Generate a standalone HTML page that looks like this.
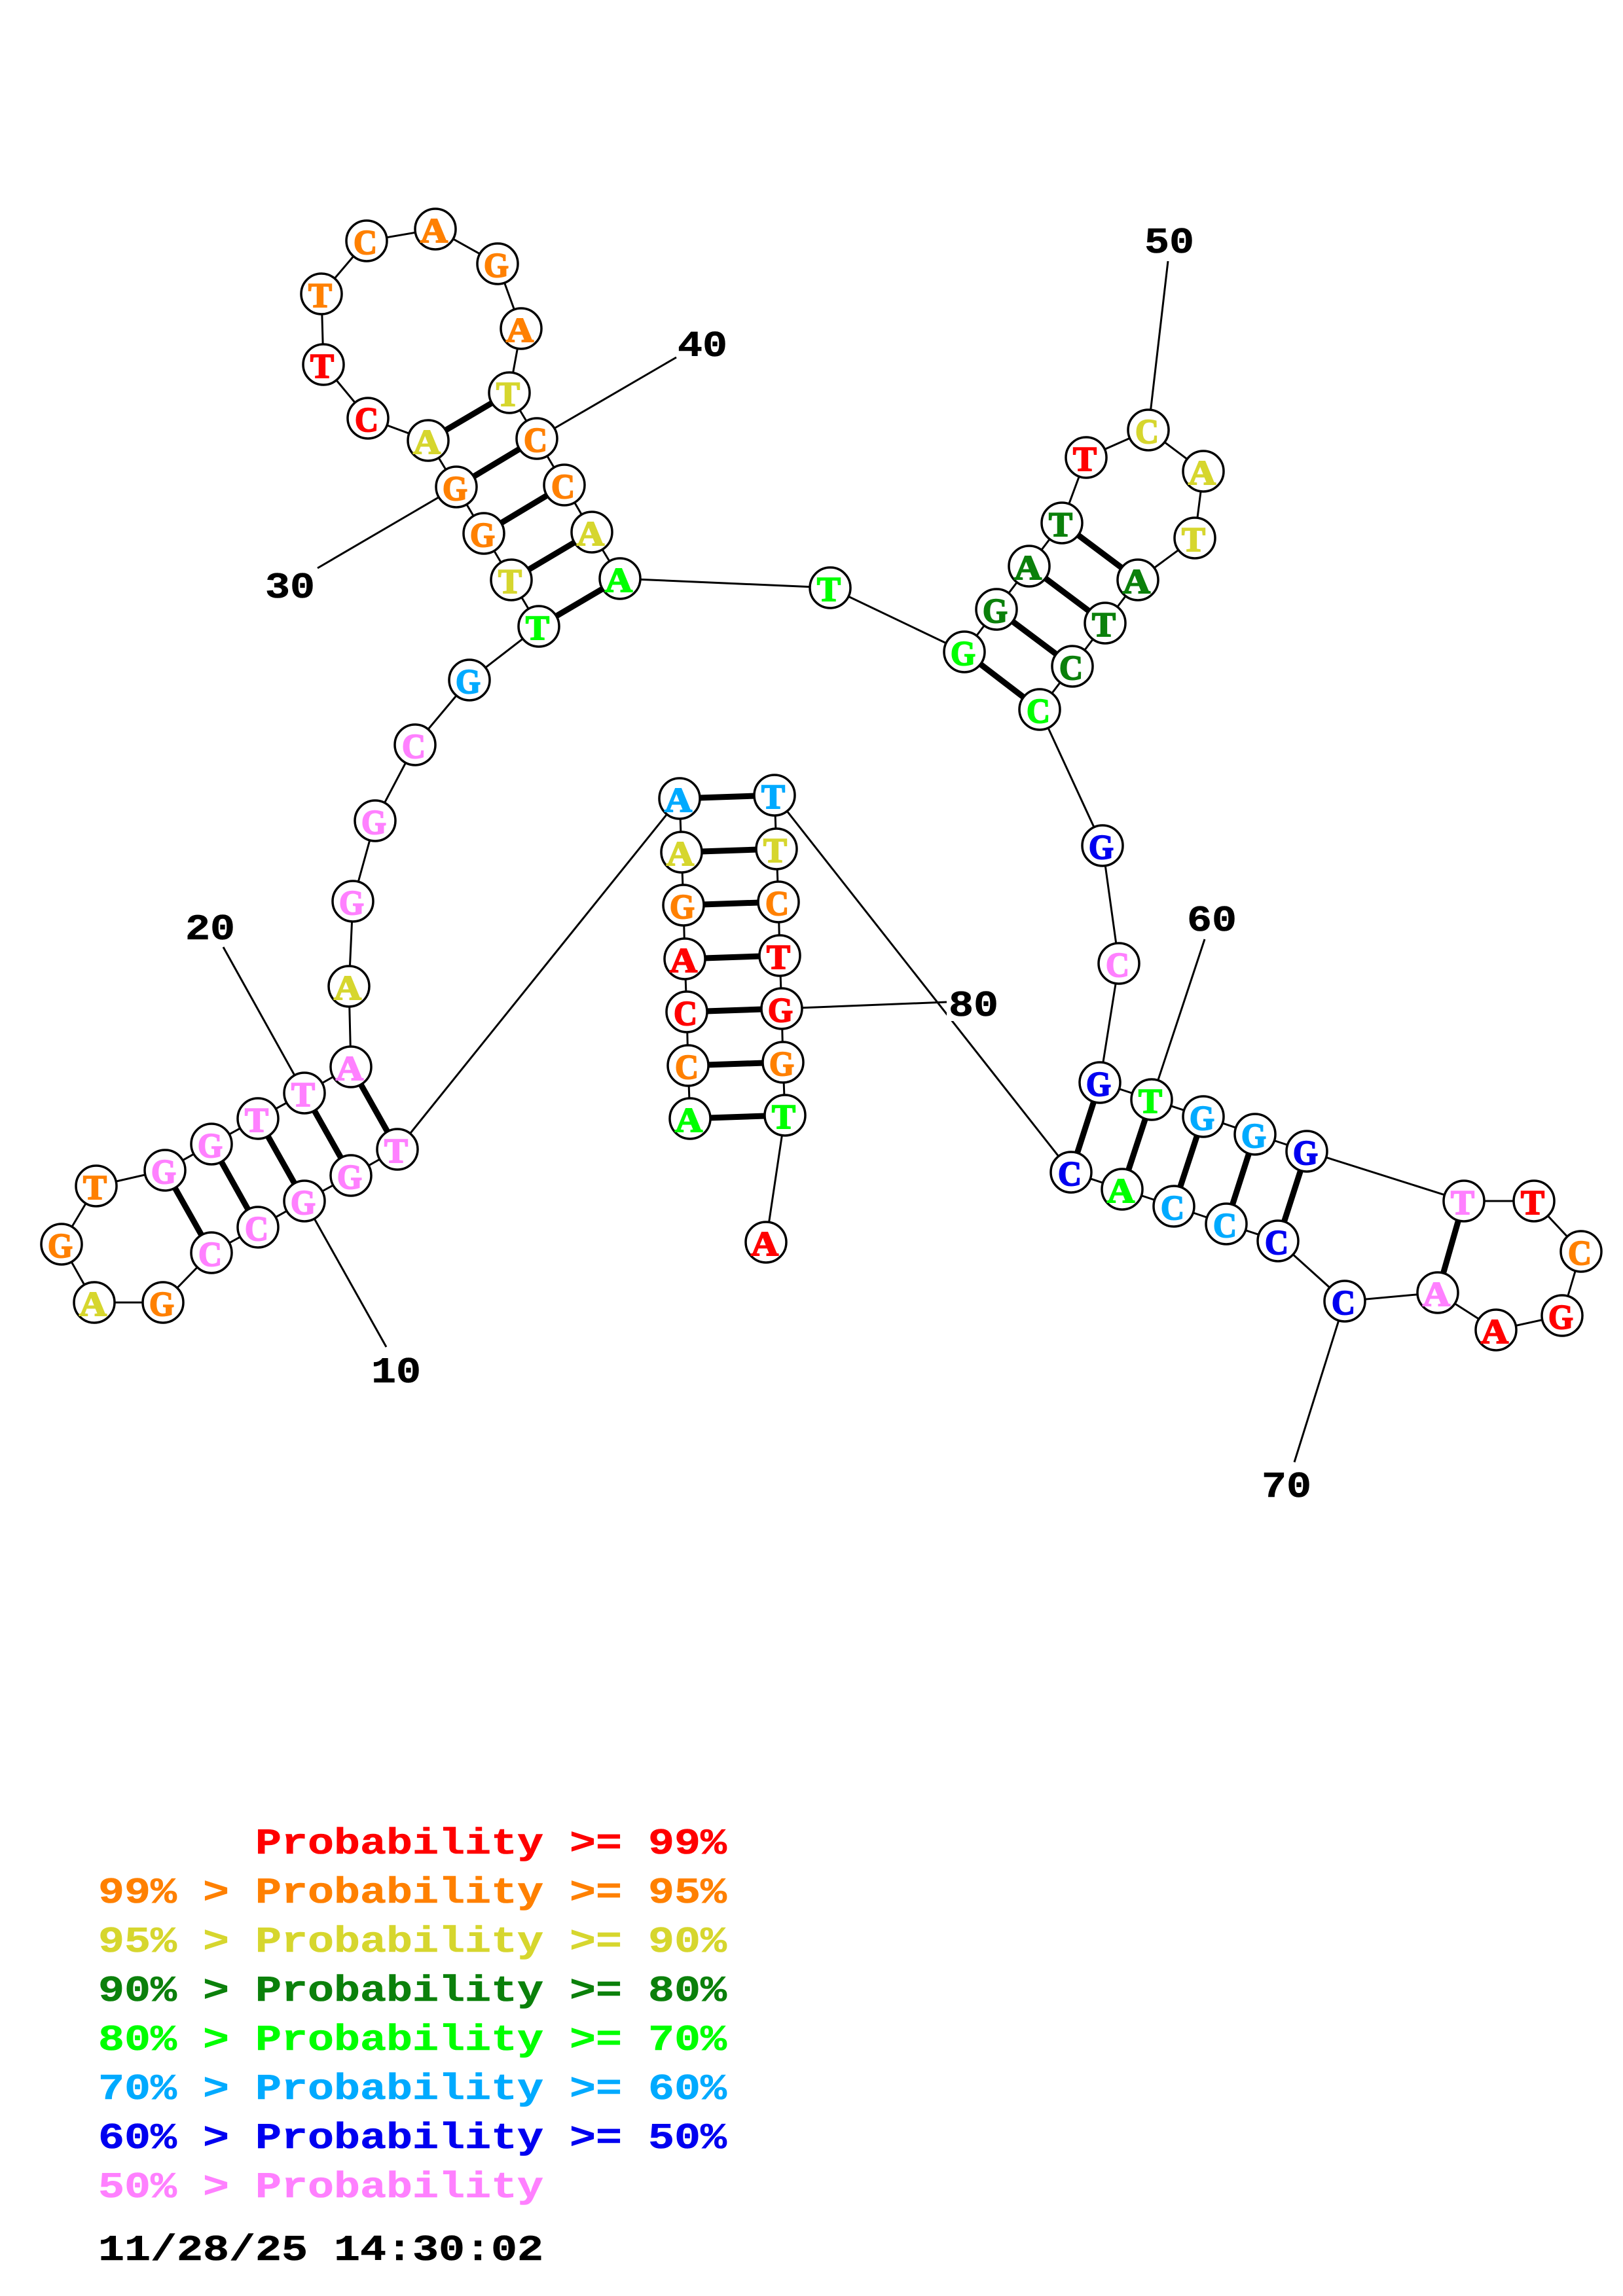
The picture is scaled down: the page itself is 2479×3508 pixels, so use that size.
<!DOCTYPE html>
<html>
<head>
<meta charset="utf-8">
<style>
html,body{margin:0;padding:0;background:#fff}
svg{display:block}
.b line{stroke:#000;stroke-width:3}
.p line{stroke:#000;stroke-width:9}
circle{fill:#fff;stroke:#000;stroke-width:3.5}
.n text{font-family:"Liberation Serif",serif;font-weight:bold;font-size:53px;text-anchor:middle;stroke-width:2px;paint-order:stroke}
.m{font-family:"Liberation Mono",monospace;font-weight:bold;font-size:56px;white-space:pre;stroke-width:.6px}
.l{text-anchor:middle;fill:#000;stroke:#000}
.red{fill:#ff0000;stroke:#ff0000}
.org{fill:#ff8000;stroke:#ff8000}
.yel{fill:#d6d62e;stroke:#d6d62e}
.dgr{fill:#0b800b;stroke:#0b800b}
.grn{fill:#00ff00;stroke:#00ff00}
.sky{fill:#00aaff;stroke:#00aaff}
.blu{fill:#0000f0;stroke:#0000f0}
.pnk{fill:#ff80ff;stroke:#ff80ff}
.blk{fill:#000;stroke:#000}
</style>
</head>
<body>
<svg width="2479" height="3508" viewBox="0 0 2479 3508" xmlns="http://www.w3.org/2000/svg">
<rect width="2479" height="3508" fill="#fff"/>
<g class="b">
<polyline fill="none" stroke="#000" stroke-width="3" points="1170,1898 1199,1704 1196,1623 1194,1541 1191,1460 1189,1378 1186,1297 1183,1215 1636,1791 1714,1817 1793,1843 1873,1870 1952,1896 2054,1988 2196,1975 2285,2032 2386,2010 2415,1912 2343,1835 2236,1835 1996,1759 1917,1733 1838,1706 1759,1680 1680,1654 1709,1472 1684,1292 1588,1084 1638,1018 1688,952 1738,886 1825,822 1838,720 1754,657 1659,699 1622,799 1572,865 1522,931 1473,996 1268,898 947,884 904,813 862,741 820,670 778,600 796,502 760,403 665,350 560,368 491,449 494,557 562,639 654,673 697,744 739,815 781,886 823,957 717,1039 634,1138 573,1254 539,1377 533,1507 536,1630 465,1670 394,1709 323,1748 252,1788 147,1812 94,1901 144,1990 249,1990 323,1914 394,1875 465,1835 536,1796 607,1756 1038,1220 1041,1302 1044,1383 1046,1465 1049,1546 1051,1628 1054,1709"/>
<line x1="697" y1="744" x2="485" y2="868"/>
<line x1="820" y1="670" x2="1033" y2="546"/>
<line x1="465" y1="1670" x2="341" y2="1447"/>
<line x1="465" y1="1835" x2="590" y2="2058"/>
<line x1="1754" y1="657" x2="1784" y2="399"/>
<line x1="1759" y1="1680" x2="1840" y2="1435"/>
<line x1="2054" y1="1988" x2="1977" y2="2234"/>
<line x1="1194" y1="1541" x2="1446" y2="1531"/>
</g>
<g class="p">
<line x1="1038" y1="1220" x2="1183" y2="1215"/>
<line x1="1041" y1="1302" x2="1186" y2="1297"/>
<line x1="1044" y1="1383" x2="1189" y2="1378"/>
<line x1="1046" y1="1465" x2="1191" y2="1460"/>
<line x1="1049" y1="1546" x2="1194" y2="1541"/>
<line x1="1051" y1="1628" x2="1196" y2="1623"/>
<line x1="1054" y1="1709" x2="1199" y2="1704"/>
<line x1="607" y1="1756" x2="536" y2="1630"/>
<line x1="536" y1="1796" x2="465" y2="1670"/>
<line x1="465" y1="1835" x2="394" y2="1709"/>
<line x1="394" y1="1875" x2="323" y2="1748"/>
<line x1="323" y1="1914" x2="252" y2="1788"/>
<line x1="823" y1="957" x2="947" y2="884"/>
<line x1="781" y1="886" x2="904" y2="813"/>
<line x1="739" y1="815" x2="862" y2="741"/>
<line x1="697" y1="744" x2="820" y2="670"/>
<line x1="654" y1="673" x2="778" y2="600"/>
<line x1="1473" y1="996" x2="1588" y2="1084"/>
<line x1="1522" y1="931" x2="1638" y2="1018"/>
<line x1="1572" y1="865" x2="1688" y2="952"/>
<line x1="1622" y1="799" x2="1738" y2="886"/>
<line x1="1636" y1="1791" x2="1680" y2="1654"/>
<line x1="1714" y1="1817" x2="1759" y2="1680"/>
<line x1="1793" y1="1843" x2="1838" y2="1706"/>
<line x1="1873" y1="1870" x2="1917" y2="1733"/>
<line x1="1952" y1="1896" x2="1996" y2="1759"/>
<line x1="2236" y1="1835" x2="2196" y2="1975"/>
</g>
<rect x="1446" y="1512" width="84" height="48" fill="#fff"/>
<g class="m">
<text class="m l" x="443" y="913" textLength="76" lengthAdjust="spacingAndGlyphs">30</text>
<text class="m l" x="1073" y="544" textLength="76" lengthAdjust="spacingAndGlyphs">40</text>
<text class="m l" x="321" y="1435" textLength="76" lengthAdjust="spacingAndGlyphs">20</text>
<text class="m l" x="605" y="2112" textLength="76" lengthAdjust="spacingAndGlyphs">10</text>
<text class="m l" x="1786" y="386" textLength="76" lengthAdjust="spacingAndGlyphs">50</text>
<text class="m l" x="1851" y="1422" textLength="76" lengthAdjust="spacingAndGlyphs">60</text>
<text class="m l" x="1965" y="2287" textLength="76" lengthAdjust="spacingAndGlyphs">70</text>
<text class="m l" x="1487" y="1552" textLength="76" lengthAdjust="spacingAndGlyphs">80</text>
</g>
<g class="n">
<circle cx="1170" cy="1898" r="31"/><text class="red" x="1168" y="1918" textLength="42" lengthAdjust="spacingAndGlyphs">A</text>
<circle cx="1199" cy="1704" r="31"/><text class="grn" x="1197" y="1724" textLength="36" lengthAdjust="spacingAndGlyphs">T</text>
<circle cx="1196" cy="1623" r="31"/><text class="org" x="1194" y="1643" textLength="38" lengthAdjust="spacingAndGlyphs">G</text>
<circle cx="1194" cy="1541" r="31"/><text class="red" x="1192" y="1561" textLength="38" lengthAdjust="spacingAndGlyphs">G</text>
<circle cx="1191" cy="1460" r="31"/><text class="red" x="1189" y="1480" textLength="36" lengthAdjust="spacingAndGlyphs">T</text>
<circle cx="1189" cy="1378" r="31"/><text class="org" x="1187" y="1398" textLength="36" lengthAdjust="spacingAndGlyphs">C</text>
<circle cx="1186" cy="1297" r="31"/><text class="yel" x="1184" y="1317" textLength="36" lengthAdjust="spacingAndGlyphs">T</text>
<circle cx="1183" cy="1215" r="31"/><text class="sky" x="1181" y="1235" textLength="36" lengthAdjust="spacingAndGlyphs">T</text>
<circle cx="1038" cy="1220" r="31"/><text class="sky" x="1036" y="1240" textLength="42" lengthAdjust="spacingAndGlyphs">A</text>
<circle cx="1041" cy="1302" r="31"/><text class="yel" x="1039" y="1322" textLength="42" lengthAdjust="spacingAndGlyphs">A</text>
<circle cx="1044" cy="1383" r="31"/><text class="org" x="1042" y="1403" textLength="38" lengthAdjust="spacingAndGlyphs">G</text>
<circle cx="1046" cy="1465" r="31"/><text class="red" x="1044" y="1485" textLength="42" lengthAdjust="spacingAndGlyphs">A</text>
<circle cx="1049" cy="1546" r="31"/><text class="red" x="1047" y="1566" textLength="36" lengthAdjust="spacingAndGlyphs">C</text>
<circle cx="1051" cy="1628" r="31"/><text class="org" x="1049" y="1648" textLength="36" lengthAdjust="spacingAndGlyphs">C</text>
<circle cx="1054" cy="1709" r="31"/><text class="grn" x="1052" y="1729" textLength="42" lengthAdjust="spacingAndGlyphs">A</text>

<circle cx="607" cy="1756" r="31"/><text class="pnk" x="605" y="1776" textLength="36" lengthAdjust="spacingAndGlyphs">T</text>
<circle cx="536" cy="1796" r="31"/><text class="pnk" x="534" y="1816" textLength="38" lengthAdjust="spacingAndGlyphs">G</text>
<circle cx="465" cy="1835" r="31"/><text class="pnk" x="463" y="1855" textLength="38" lengthAdjust="spacingAndGlyphs">G</text>
<circle cx="394" cy="1875" r="31"/><text class="pnk" x="392" y="1895" textLength="36" lengthAdjust="spacingAndGlyphs">C</text>
<circle cx="323" cy="1914" r="31"/><text class="pnk" x="321" y="1934" textLength="36" lengthAdjust="spacingAndGlyphs">C</text>
<circle cx="249" cy="1990" r="31"/><text class="org" x="247" y="2010" textLength="38" lengthAdjust="spacingAndGlyphs">G</text>
<circle cx="144" cy="1990" r="31"/><text class="yel" x="142" y="2010" textLength="42" lengthAdjust="spacingAndGlyphs">A</text>
<circle cx="94" cy="1901" r="31"/><text class="org" x="92" y="1921" textLength="38" lengthAdjust="spacingAndGlyphs">G</text>
<circle cx="147" cy="1812" r="31"/><text class="org" x="145" y="1832" textLength="36" lengthAdjust="spacingAndGlyphs">T</text>
<circle cx="252" cy="1788" r="31"/><text class="pnk" x="250" y="1808" textLength="38" lengthAdjust="spacingAndGlyphs">G</text>
<circle cx="323" cy="1748" r="31"/><text class="pnk" x="321" y="1768" textLength="38" lengthAdjust="spacingAndGlyphs">G</text>
<circle cx="394" cy="1709" r="31"/><text class="pnk" x="392" y="1729" textLength="36" lengthAdjust="spacingAndGlyphs">T</text>
<circle cx="465" cy="1670" r="31"/><text class="pnk" x="463" y="1690" textLength="36" lengthAdjust="spacingAndGlyphs">T</text>
<circle cx="536" cy="1630" r="31"/><text class="pnk" x="534" y="1650" textLength="42" lengthAdjust="spacingAndGlyphs">A</text>
<circle cx="533" cy="1507" r="31"/><text class="yel" x="531" y="1527" textLength="42" lengthAdjust="spacingAndGlyphs">A</text>
<circle cx="539" cy="1377" r="31"/><text class="pnk" x="537" y="1397" textLength="38" lengthAdjust="spacingAndGlyphs">G</text>
<circle cx="573" cy="1254" r="31"/><text class="pnk" x="571" y="1274" textLength="38" lengthAdjust="spacingAndGlyphs">G</text>
<circle cx="634" cy="1138" r="31"/><text class="pnk" x="632" y="1158" textLength="36" lengthAdjust="spacingAndGlyphs">C</text>
<circle cx="717" cy="1039" r="31"/><text class="sky" x="715" y="1059" textLength="38" lengthAdjust="spacingAndGlyphs">G</text>

<circle cx="823" cy="957" r="31"/><text class="grn" x="821" y="977" textLength="36" lengthAdjust="spacingAndGlyphs">T</text>
<circle cx="781" cy="886" r="31"/><text class="yel" x="779" y="906" textLength="36" lengthAdjust="spacingAndGlyphs">T</text>
<circle cx="739" cy="815" r="31"/><text class="org" x="737" y="835" textLength="38" lengthAdjust="spacingAndGlyphs">G</text>
<circle cx="697" cy="744" r="31"/><text class="org" x="695" y="764" textLength="38" lengthAdjust="spacingAndGlyphs">G</text>
<circle cx="654" cy="673" r="31"/><text class="yel" x="652" y="693" textLength="42" lengthAdjust="spacingAndGlyphs">A</text>
<circle cx="562" cy="639" r="31"/><text class="red" x="560" y="659" textLength="36" lengthAdjust="spacingAndGlyphs">C</text>
<circle cx="494" cy="557" r="31"/><text class="red" x="492" y="577" textLength="36" lengthAdjust="spacingAndGlyphs">T</text>
<circle cx="491" cy="449" r="31"/><text class="org" x="489" y="469" textLength="36" lengthAdjust="spacingAndGlyphs">T</text>
<circle cx="560" cy="368" r="31"/><text class="org" x="558" y="388" textLength="36" lengthAdjust="spacingAndGlyphs">C</text>
<circle cx="665" cy="350" r="31"/><text class="org" x="663" y="370" textLength="42" lengthAdjust="spacingAndGlyphs">A</text>
<circle cx="760" cy="403" r="31"/><text class="org" x="758" y="423" textLength="38" lengthAdjust="spacingAndGlyphs">G</text>
<circle cx="796" cy="502" r="31"/><text class="org" x="794" y="522" textLength="42" lengthAdjust="spacingAndGlyphs">A</text>
<circle cx="778" cy="600" r="31"/><text class="yel" x="776" y="620" textLength="36" lengthAdjust="spacingAndGlyphs">T</text>
<circle cx="820" cy="670" r="31"/><text class="org" x="818" y="690" textLength="36" lengthAdjust="spacingAndGlyphs">C</text>
<circle cx="862" cy="741" r="31"/><text class="org" x="860" y="761" textLength="36" lengthAdjust="spacingAndGlyphs">C</text>
<circle cx="904" cy="813" r="31"/><text class="yel" x="902" y="833" textLength="42" lengthAdjust="spacingAndGlyphs">A</text>
<circle cx="947" cy="884" r="31"/><text class="grn" x="945" y="904" textLength="42" lengthAdjust="spacingAndGlyphs">A</text>
<circle cx="1268" cy="898" r="31"/><text class="grn" x="1266" y="918" textLength="36" lengthAdjust="spacingAndGlyphs">T</text>

<circle cx="1473" cy="996" r="31"/><text class="grn" x="1471" y="1016" textLength="38" lengthAdjust="spacingAndGlyphs">G</text>
<circle cx="1522" cy="931" r="31"/><text class="dgr" x="1520" y="951" textLength="38" lengthAdjust="spacingAndGlyphs">G</text>
<circle cx="1572" cy="865" r="31"/><text class="dgr" x="1570" y="885" textLength="42" lengthAdjust="spacingAndGlyphs">A</text>
<circle cx="1622" cy="799" r="31"/><text class="dgr" x="1620" y="819" textLength="36" lengthAdjust="spacingAndGlyphs">T</text>
<circle cx="1659" cy="699" r="31"/><text class="red" x="1657" y="719" textLength="36" lengthAdjust="spacingAndGlyphs">T</text>
<circle cx="1754" cy="657" r="31"/><text class="yel" x="1752" y="677" textLength="36" lengthAdjust="spacingAndGlyphs">C</text>
<circle cx="1838" cy="720" r="31"/><text class="yel" x="1836" y="740" textLength="42" lengthAdjust="spacingAndGlyphs">A</text>
<circle cx="1825" cy="822" r="31"/><text class="yel" x="1823" y="842" textLength="36" lengthAdjust="spacingAndGlyphs">T</text>
<circle cx="1738" cy="886" r="31"/><text class="dgr" x="1736" y="906" textLength="42" lengthAdjust="spacingAndGlyphs">A</text>
<circle cx="1688" cy="952" r="31"/><text class="dgr" x="1686" y="972" textLength="36" lengthAdjust="spacingAndGlyphs">T</text>
<circle cx="1638" cy="1018" r="31"/><text class="dgr" x="1636" y="1038" textLength="36" lengthAdjust="spacingAndGlyphs">C</text>
<circle cx="1588" cy="1084" r="31"/><text class="grn" x="1586" y="1104" textLength="36" lengthAdjust="spacingAndGlyphs">C</text>
<circle cx="1684" cy="1292" r="31"/><text class="blu" x="1682" y="1312" textLength="38" lengthAdjust="spacingAndGlyphs">G</text>
<circle cx="1709" cy="1472" r="31"/><text class="pnk" x="1707" y="1492" textLength="36" lengthAdjust="spacingAndGlyphs">C</text>

<circle cx="1680" cy="1654" r="31"/><text class="blu" x="1678" y="1674" textLength="38" lengthAdjust="spacingAndGlyphs">G</text>
<circle cx="1759" cy="1680" r="31"/><text class="grn" x="1757" y="1700" textLength="36" lengthAdjust="spacingAndGlyphs">T</text>
<circle cx="1838" cy="1706" r="31"/><text class="sky" x="1836" y="1726" textLength="38" lengthAdjust="spacingAndGlyphs">G</text>
<circle cx="1917" cy="1733" r="31"/><text class="sky" x="1915" y="1753" textLength="38" lengthAdjust="spacingAndGlyphs">G</text>
<circle cx="1996" cy="1759" r="31"/><text class="blu" x="1994" y="1779" textLength="38" lengthAdjust="spacingAndGlyphs">G</text>
<circle cx="2236" cy="1835" r="31"/><text class="pnk" x="2234" y="1855" textLength="36" lengthAdjust="spacingAndGlyphs">T</text>
<circle cx="2343" cy="1835" r="31"/><text class="red" x="2341" y="1855" textLength="36" lengthAdjust="spacingAndGlyphs">T</text>
<circle cx="2415" cy="1912" r="31"/><text class="org" x="2413" y="1932" textLength="36" lengthAdjust="spacingAndGlyphs">C</text>
<circle cx="2386" cy="2010" r="31"/><text class="red" x="2384" y="2030" textLength="38" lengthAdjust="spacingAndGlyphs">G</text>
<circle cx="2285" cy="2032" r="31"/><text class="red" x="2283" y="2052" textLength="42" lengthAdjust="spacingAndGlyphs">A</text>
<circle cx="2196" cy="1975" r="31"/><text class="pnk" x="2194" y="1995" textLength="42" lengthAdjust="spacingAndGlyphs">A</text>
<circle cx="2054" cy="1988" r="31"/><text class="blu" x="2052" y="2008" textLength="36" lengthAdjust="spacingAndGlyphs">C</text>
<circle cx="1952" cy="1896" r="31"/><text class="blu" x="1950" y="1916" textLength="36" lengthAdjust="spacingAndGlyphs">C</text>
<circle cx="1873" cy="1870" r="31"/><text class="sky" x="1871" y="1890" textLength="36" lengthAdjust="spacingAndGlyphs">C</text>
<circle cx="1793" cy="1843" r="31"/><text class="sky" x="1791" y="1863" textLength="36" lengthAdjust="spacingAndGlyphs">C</text>
<circle cx="1714" cy="1817" r="31"/><text class="grn" x="1712" y="1837" textLength="42" lengthAdjust="spacingAndGlyphs">A</text>
<circle cx="1636" cy="1791" r="31"/><text class="blu" x="1634" y="1811" textLength="36" lengthAdjust="spacingAndGlyphs">C</text>
</g>
<text class="m red" x="390" y="2832" textLength="720" lengthAdjust="spacingAndGlyphs">Probability &gt;= 99%</text>
<text class="m org" x="150" y="2907" textLength="960" lengthAdjust="spacingAndGlyphs">99% &gt; Probability &gt;= 95%</text>
<text class="m yel" x="150" y="2982" textLength="960" lengthAdjust="spacingAndGlyphs">95% &gt; Probability &gt;= 90%</text>
<text class="m dgr" x="150" y="3057" textLength="960" lengthAdjust="spacingAndGlyphs">90% &gt; Probability &gt;= 80%</text>
<text class="m grn" x="150" y="3132" textLength="960" lengthAdjust="spacingAndGlyphs">80% &gt; Probability &gt;= 70%</text>
<text class="m sky" x="150" y="3207" textLength="960" lengthAdjust="spacingAndGlyphs">70% &gt; Probability &gt;= 60%</text>
<text class="m blu" x="150" y="3282" textLength="960" lengthAdjust="spacingAndGlyphs">60% &gt; Probability &gt;= 50%</text>
<text class="m pnk" x="150" y="3357" textLength="680" lengthAdjust="spacingAndGlyphs">50% &gt; Probability</text>
<text class="m blk" x="150" y="3453" textLength="680" lengthAdjust="spacingAndGlyphs">11/28/25 14:30:02</text>
</svg>
</body>
</html>
